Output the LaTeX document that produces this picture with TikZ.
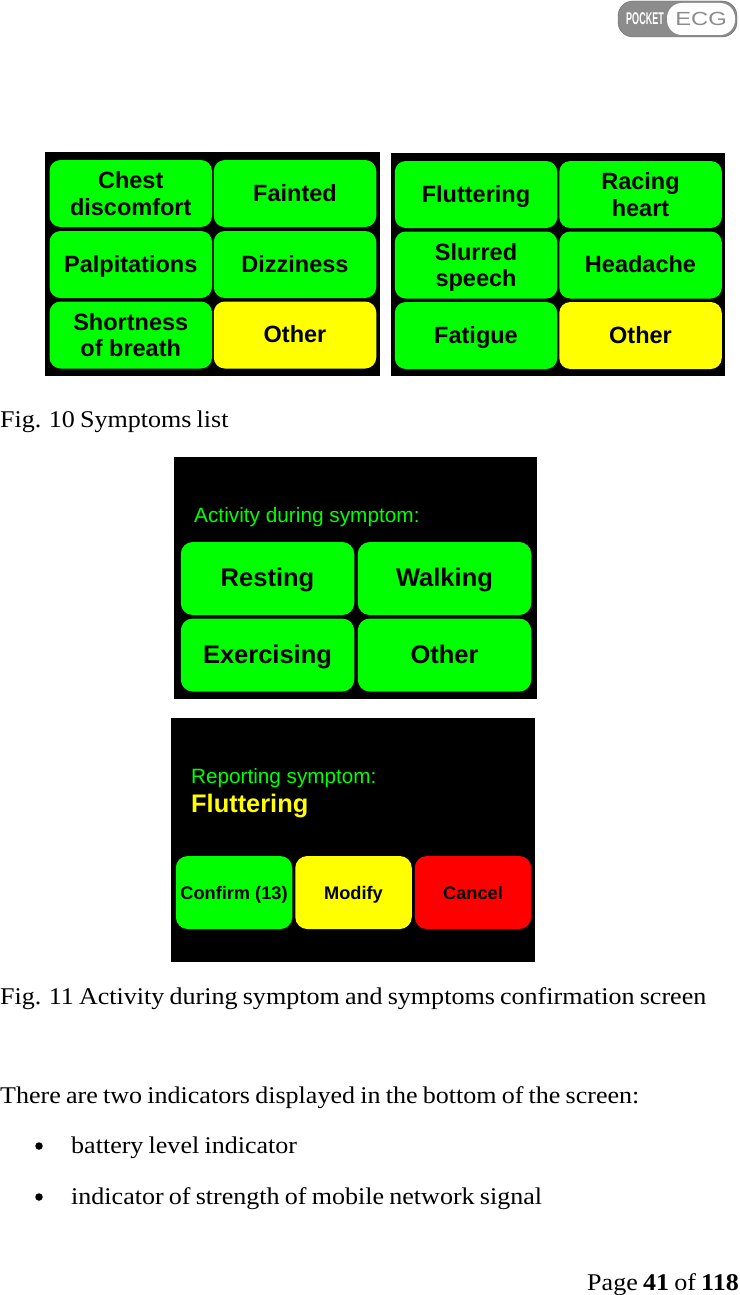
\documentclass[tikz,border=0pt]{standalone}
\usepackage{fontspec}
\setmainfont{Liberation Sans}
\newfontfamily\bodyfont[FakeStretch=1.085,WordSpace=0.8]{Liberation Serif}
\definecolor{keygreen}{RGB}{0,255,0}
\definecolor{keyyellow}{RGB}{255,255,0}
\definecolor{logogray}{RGB}{140,140,140}
\tikzset{
  screen/.style={fill=black,inner sep=0pt},
  keylabel/.style={inner sep=0pt,text=black,align=center,
    execute at begin node=\rule{0pt}{\dimexpr.72em+4pt\relax},
    execute at end node=\vphantom{g}},
  smallkey/.style={keylabel,rounded corners=11pt,
    minimum width=162.5pt,minimum height=67pt,
    font=\fontsize{23.5}{26.5}\selectfont\bfseries},
  twolines/.style={smallkey,execute at begin node=\rule{0pt}{48pt}},
  widekey/.style={keylabel,rounded corners=12pt,
    minimum width=173.5pt,minimum height=73pt,
    font=\fontsize{25.5}{28}\selectfont\bfseries},
  lowkey/.style={keylabel,rounded corners=12pt,
    minimum width=116.5pt,minimum height=73pt,
    font=\fontsize{18.2}{22}\selectfont\bfseries},
  caption/.style={anchor=base west,inner sep=0pt,
    font=\fontsize{24}{26}\selectfont\bodyfont},
  listdot/.style={circle,fill=black,inner sep=0pt,minimum size=7.5pt}
}
\begin{document}
\begin{tikzpicture}[x=1pt,y=-1pt]
      \useasboundingbox (0,0) rectangle (739,1295);
      % logo
      \node[fill=logogray,draw=black!60,rounded corners=15pt,inner sep=0pt,
        minimum width=119pt,minimum height=36pt] (pill) at (677.5,19) {};
      \node[fill=white,rounded corners=15pt,inner sep=0pt,
        minimum width=68pt,minimum height=32pt] (pillecg) at (701,19) {};
      \node[text=white,inner sep=0pt,xscale=0.53,
        font=\fontsize{17}{17}\selectfont\bfseries] (pocket) at (645,19) {POCKET};
      \node[text=logogray,inner sep=0pt,xscale=1.25,
        font=\fontsize{19}{19}\selectfont] (ecg) at (701,19) {ECG};
      % symptoms, first screen
      \node[screen,minimum width=335pt,minimum height=224pt] (first) at (212.5,264) {};
      \node[twolines,fill=keygreen] (chest) at (130.75,193.5) {Chest\\discomfort};
      \node[smallkey,fill=keygreen] (fainted) at (295,193.5) {Fainted};
      \node[smallkey,fill=keygreen] (palp) at (130.75,264.5) {Palpitations};
      \node[smallkey,fill=keygreen] (dizzy) at (295,264.5) {Dizziness};
      \node[twolines,fill=keygreen] (short) at (130.75,335) {Shortness\\of breath};
      \node[smallkey,fill=keyyellow] (otherA) at (295,335) {Other};
      % symptoms, second screen
      \node[screen,minimum width=334pt,minimum height=223pt] (second) at (558,264.5) {};
      \node[smallkey,fill=keygreen] (flutter) at (476,194.5) {Fluttering};
      \node[twolines,fill=keygreen] (racing) at (640.5,194.5) {Racing\\heart};
      \node[twolines,fill=keygreen] (slurred) at (476,265) {Slurred\\speech};
      \node[smallkey,fill=keygreen] (headache) at (640.5,265) {Headache};
      \node[smallkey,fill=keygreen] (fatigue) at (476,335.5) {Fatigue};
      \node[smallkey,fill=keyyellow] (otherB) at (640.5,335.5) {Other};
      \node[caption] (figten) at (0,427) {Fig. 10 Symptoms list};
      % activity screen
      \node[screen,minimum width=363pt,minimum height=242pt] (activity) at (355.5,578) {};
      \node[anchor=base west,inner sep=0pt,text=keygreen,
        font=\fontsize{20.8}{24}\selectfont] (acttitle) at (194,522) {Activity during symptom:};
      \node[widekey,fill=keygreen] (resting) at (267.5,578.5) {Resting};
      \node[widekey,fill=keygreen] (walking) at (444.5,578.5) {Walking};
      \node[widekey,fill=keygreen] (exercise) at (267.5,655) {Exercising};
      \node[widekey,fill=keygreen] (otherC) at (444.5,655) {Other};
      % confirmation screen
      \node[screen,minimum width=364pt,minimum height=244pt] (confirm) at (353,840) {};
      \node[anchor=base west,inner sep=0pt,text=keygreen,
        font=\fontsize{20.7}{24}\selectfont] (reptitle) at (191,783) {Reporting symptom:};
      \node[anchor=base west,inner sep=0pt,text=keyyellow,
        font=\fontsize{25.4}{28}\selectfont\bfseries] (repname) at (191,812) {Fluttering};
      \node[lowkey,fill=keygreen] (confirmkey) at (234,892.5) {Confirm (13)};
      \node[lowkey,fill=keyyellow] (modifykey) at (353.5,892.5) {Modify};
      \node[lowkey,fill=red] (cancelkey) at (473,892.5) {Cancel};
      % text below
      \node[caption] (figeleven) at (0,1004) {Fig. 11 Activity during symptom and symptoms confirmation screen};
      \node[caption] (there) at (0,1103) {There are two indicators displayed in the bottom of the screen:};
      \node[listdot] (dotA) at (39,1146) {};
      \node[caption] (battery) at (71,1153) {battery level indicator};
      \node[listdot] (dotB) at (39,1197) {};
      \node[caption] (signal) at (71,1204) {indicator of strength of mobile network signal};
      \node[caption,anchor=base east] (page) at (739,1290) {Page \textbf{41} of \textbf{118}};
    \end{tikzpicture}
\end{document}
